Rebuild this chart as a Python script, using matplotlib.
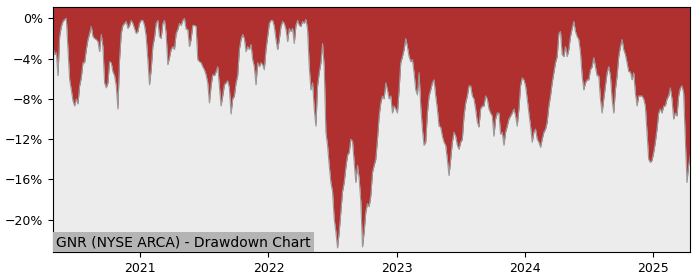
import matplotlib
matplotlib.use('Agg')
import matplotlib.pyplot as plt
import matplotlib.dates as mdates
from matplotlib.ticker import MultipleLocator, PercentFormatter
import pandas as pd

# Drawdown in percent at roughly 4.75 day steps
drawdown = [
    -2.8, -3.6, -3.4, -5.7, -1.8, -0.8, -0.3, -0.1, 0.0, -3.1,
    -6.1, -7.1, -8.2, -8.7, -8.0, -8.5, -6.7, -5.9, -4.4, -4.4,
    -3.1, -2.1, -1.5, -0.8, -1.8, -2.0, -2.1, -2.3, -3.3, -1.6,
    -2.8, -6.4, -6.9, -6.4, -4.3, -4.4, -5.3, -5.7, -6.7, -9.0,
    -4.1, -1.5, -0.7, -0.5, -0.3, -1.0, -0.7, -0.2, -0.5, -1.0,
    -1.5, -1.3, -0.5, -0.2, -0.2, -0.7, -1.8, -4.1, -6.6, -5.1,
    -2.8, -1.9, -0.5, -0.2, -1.8, -2.0, -0.5, -0.2, -1.5, -4.6,
    -3.9, -3.1, -2.8, -3.1, -1.5, -1.1, -0.5, -0.7, -0.2, 0.0,
    -1.1, -1.1, -2.8, -2.1, -0.7, -0.7, -0.8, -4.1, -4.3, -4.4,
    -4.8, -5.1, -5.6, -6.4, -8.4, -6.7, -5.6, -5.7, -5.3, -4.8,
    -6.7, -8.7, -7.7, -6.6, -6.4, -6.2, -6.9, -9.5, -8.0, -7.7,
    -6.4, -5.7, -3.1, -2.1, -1.6, -2.0, -3.3, -2.8, -3.1, -2.6,
    -4.1, -4.8, -6.6, -4.4, -4.8, -4.4, -4.6, -5.1, -3.1, -1.8,
    -0.5, -0.2, -0.2, -0.8, -2.1, -3.1, -2.1, -0.8, -0.3, -0.5,
    -1.1, -2.3, -1.0, -1.3, -1.0, -2.5, -0.7, -0.2, -0.7, -0.8,
    -0.3, -0.5, -0.1, -1.1, -4.8, -7.1, -6.4, -9.0, -10.7, -6.7,
    -5.4, -4.4, -2.5, -4.8, -11.3, -12.6, -14.6, -16.3, -17.2, -19.9,
    -21.2, -22.8, -21.2, -19.2, -17.2, -16.3, -14.8, -13.6, -13.3, -12.0,
    -12.2, -14.3, -16.3, -14.6, -15.9, -18.2, -22.7, -21.2, -19.2, -18.4,
    -18.7, -17.6, -15.3, -14.6, -14.0, -12.0, -9.7, -8.4, -7.7, -8.0,
    -6.4, -7.1, -8.0, -7.7, -9.4, -8.7, -9.0, -9.4, -7.1, -4.4,
    -3.8, -3.1, -2.0, -2.8, -3.8, -4.3, -4.1, -5.4, -7.1, -7.6,
    -5.4, -8.7, -11.0, -12.6, -12.3, -9.4, -7.7, -7.1, -6.4, -6.1,
    -7.7, -9.0, -10.7, -10.8, -11.7, -12.3, -12.6, -14.0, -15.6, -14.0,
    -12.3, -11.3, -11.7, -12.6, -13.0, -12.3, -12.0, -9.7, -8.4, -7.7,
    -6.7, -6.7, -7.7, -8.0, -9.0, -10.3, -10.8, -9.0, -8.7, -8.7,
    -7.7, -8.0, -9.0, -9.4, -9.7, -11.7, -10.0, -9.4, -9.4, -11.5,
    -11.3, -12.6, -11.3, -10.7, -10.0, -9.7, -9.4, -9.0, -9.7, -10.7,
    -9.0, -6.7, -5.9, -6.1, -6.7, -8.0, -9.4, -10.7, -12.3, -11.3,
    -11.0, -12.0, -12.3, -12.8, -12.0, -11.3, -11.0, -10.3, -8.7, -7.7,
    -6.4, -5.4, -4.4, -3.8, -1.5, -1.3, -3.6, -3.8, -2.8, -3.8,
    -3.1, -1.8, -1.0, -0.3, -1.3, -1.8, -2.1, -3.4, -5.7, -7.1,
    -6.4, -6.1, -6.1, -5.1, -4.8, -3.9, -4.8, -5.7, -5.7, -8.0,
    -9.4, -8.0, -6.7, -5.4, -4.8, -5.7, -8.0, -9.4, -7.1, -5.7,
    -3.8, -2.8, -2.1, -3.1, -3.6, -4.4, -5.3, -5.3, -6.1, -5.4,
    -7.4, -8.7, -7.7, -7.7, -7.7, -8.0, -8.7, -11.3, -14.0, -14.3,
    -14.1, -13.3, -12.3, -11.0, -9.4, -9.0, -9.4, -8.7, -8.7, -8.0,
    -7.7, -6.9, -8.0, -10.0, -9.4, -9.7, -7.7, -6.9, -6.7, -7.4,
    -12.0, -16.3, -14.6, -13.6,
]
dates = pd.date_range('2020-04-27', '2025-04-17', periods=len(drawdown))

title = 'GNR (NYSE ARCA) - Drawdown Chart'

fig = plt.figure(figsize=(7, 2.8), dpi=100)
ax = fig.add_axes([0.0757, 0.1, 0.9104, 0.874])
ax.set_facecolor('#ececec')

ymin, ymax = -23.2, 1.1
ax.fill_between(dates, drawdown, ymax, color='#b03030', linewidth=0)
ax.plot(dates, drawdown, color='#999999', linewidth=0.8)

ax.set_xlim(dates[0], dates[-1])
ax.set_ylim(ymin, ymax)
ax.yaxis.set_major_locator(MultipleLocator(4))
ax.yaxis.set_major_formatter(PercentFormatter(decimals=0))
ax.xaxis.set_major_locator(mdates.YearLocator())
ax.xaxis.set_major_formatter(mdates.DateFormatter('%Y'))
ax.tick_params(labelsize=9)

ax.text(0.005, 0.012, title, transform=ax.transAxes, fontsize=10,
        ha='left', va='bottom',
        bbox=dict(facecolor='#b4b4b4', edgecolor='none', pad=2))

fig.savefig('out.png', dpi=100)
